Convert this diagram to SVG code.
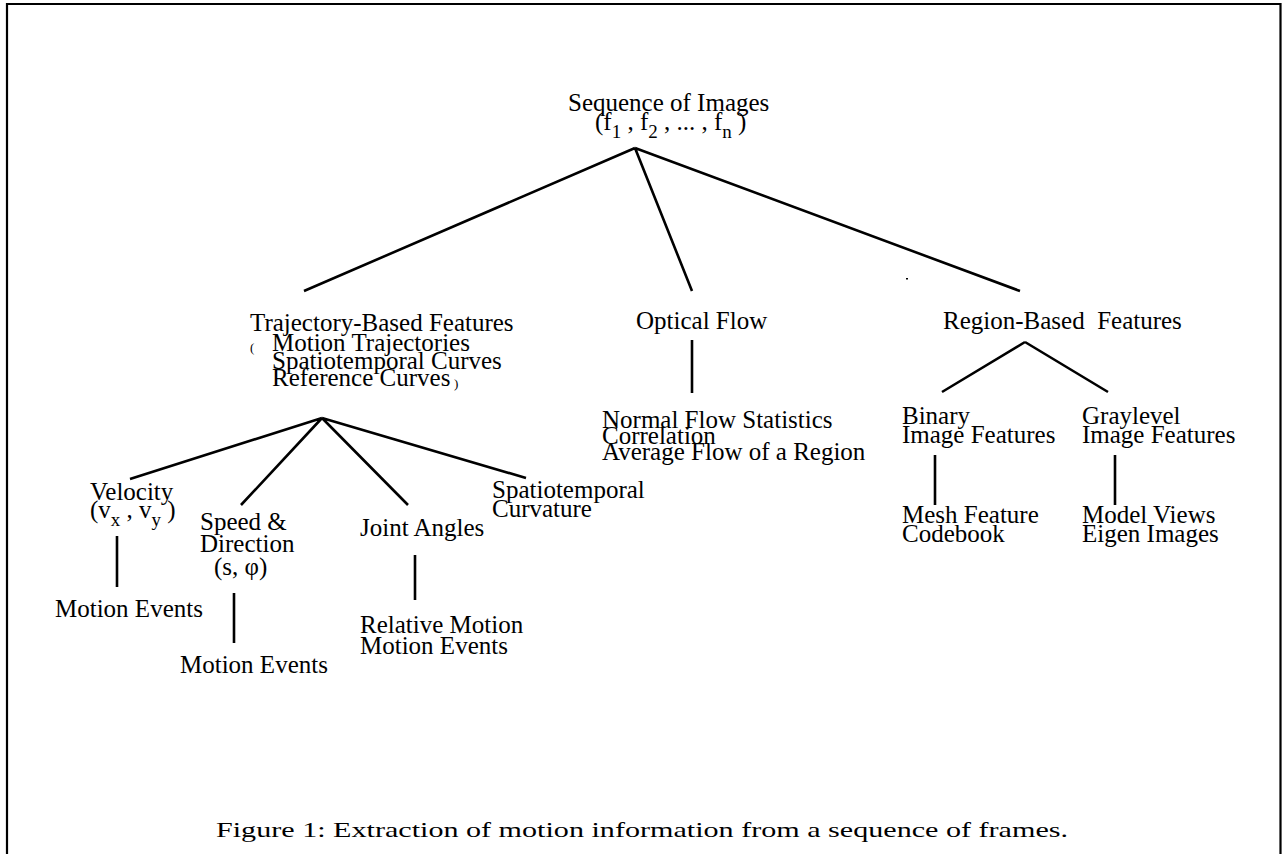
<svg xmlns="http://www.w3.org/2000/svg" width="1282" height="854" viewBox="0 0 1282 854">
<style>
text{font-family:"Liberation Serif","Times New Roman",serif;font-size:25px;fill:#000}
.sub{font-size:19px}
.sm{font-size:13px}
.cap{font-size:22px}
.ln{stroke:#000;stroke-width:2.6;fill:none;stroke-linecap:butt}
</style>
<rect width="1282" height="854" fill="#fff"/>
<path d="M7,854 V4 H1280.5 V854" fill="none" stroke="#000" stroke-width="2.2"/>
<g id="connectors" class="ln">
<path d="M635,148 L304,291 M635,148 L692,291 M635,148 L1020,291"/>
<path d="M692,340 V393"/>
<path d="M1025,342 L942,392 M1025,342 L1108,392"/>
<path d="M935,455 V505 M1115,455 V505"/>
<path d="M322,418 L130,479 M322,418 L241,505 M322,418 L408,505 M322,418 L526,478"/>
<path d="M117,536 V587 M234,593 V643 M415,555 V600"/>
</g>
<rect x="906" y="278" width="2" height="1.5" fill="#000"/>
<g id="root">
<text x="568" y="111">Sequence of Images</text>
<text x="595" y="130">(f<tspan class="sub" dy="8">1</tspan><tspan dy="-8"> , f</tspan><tspan class="sub" dy="8">2</tspan><tspan dy="-8"> , ... , f</tspan><tspan class="sub" dy="8">n</tspan><tspan dy="-8"> )</tspan></text>
</g>
<g id="trajectory">
<text x="250" y="331">Trajectory-Based Features</text>
<text class="sm" x="250" y="352">(</text>
<text x="272" y="351">Motion Trajectories</text>
<text x="272" y="369">Spatiotemporal Curves</text>
<text x="272" y="386">Reference Curves</text>
<text class="sm" x="454" y="388">)</text>
</g>
<g id="optical">
<text x="636" y="329">Optical Flow</text>
</g>
<g id="optical-features">
<text x="602" y="428">Normal Flow Statistics</text>
<text x="602" y="444">Correlation</text>
<text x="602" y="460">Average Flow of a Region</text>
</g>
<g id="region">
<text x="943" y="329" style="white-space:pre">Region-Based  Features</text>
</g>
<g id="binary">
<text x="902" y="424">Binary</text>
<text x="902" y="443">Image Features</text>
</g>
<g id="graylevel">
<text x="1082" y="424">Graylevel</text>
<text x="1082" y="443">Image Features</text>
</g>
<g id="mesh">
<text x="902" y="523">Mesh Feature</text>
<text x="902" y="542">Codebook</text>
</g>
<g id="model">
<text x="1082" y="523">Model Views</text>
<text x="1082" y="542">Eigen Images</text>
</g>
<g id="velocity">
<text x="90" y="500">Velocity</text>
<text x="90" y="518">(v<tspan class="sub" dy="8">x</tspan><tspan dy="-8"> , v</tspan><tspan class="sub" dy="8">y</tspan><tspan dy="-8"> )</tspan></text>
</g>
<g id="velocity-events">
<text x="55" y="617">Motion Events</text>
</g>
<g id="speed">
<text x="200" y="530">Speed &amp;</text>
<text x="200" y="552">Direction</text>
<text x="214" y="575">(s, φ)</text>
</g>
<g id="speed-events">
<text x="180" y="673">Motion Events</text>
</g>
<g id="joint">
<text x="360" y="536">Joint Angles</text>
</g>
<g id="joint-events">
<text x="360" y="633">Relative Motion</text>
<text x="360" y="654">Motion Events</text>
</g>
<g id="curvature">
<text x="492" y="498">Spatiotemporal</text>
<text x="492" y="517">Curvature</text>
</g>
<g id="caption">
<text class="cap" x="216" y="837" textLength="852" lengthAdjust="spacingAndGlyphs">Figure 1: Extraction of motion information from a sequence of frames.</text>
</g>
</svg>
